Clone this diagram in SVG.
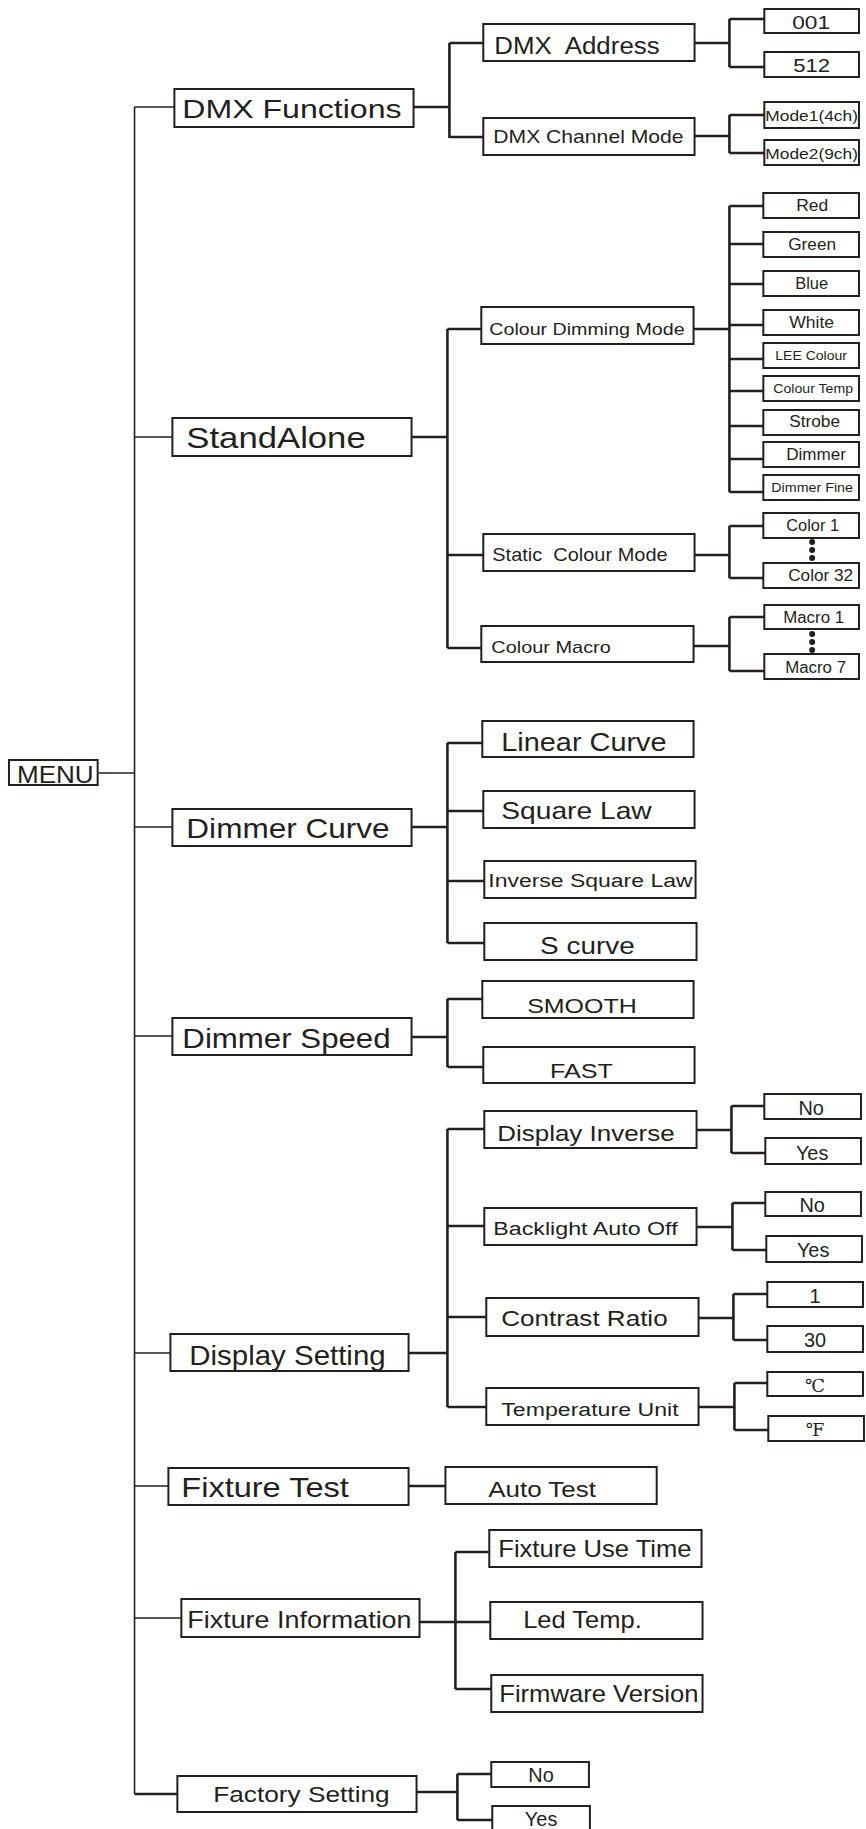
<svg xmlns="http://www.w3.org/2000/svg" width="866" height="1829" viewBox="0 0 866 1829">
<style>
rect{fill:#fff;stroke:#231f20;stroke-width:2}
text{font-family:"Liberation Sans Narrow","Arial Narrow","Liberation Sans",Arial,sans-serif;fill:#231f20}
.c{text-anchor:middle}
.deg{font-family:"DejaVu Serif","Noto Sans CJK SC",serif}
#connectors path{fill:none;stroke:#231f20;stroke-width:2.6}
#connectors .trunk{stroke-width:1.6}
.dot{fill:#231f20}
</style>
<rect x="0" y="0" width="866" height="1829" style="fill:#fff;stroke:none"/>
<g id="diagram" transform="scale(0.9965 1)">
<g id="connectors">
<path class="trunk" d="M135,107V1794M99,773H135M135,107H175M135,437H173M135,827H173M135,1036H173M135,1353H171M135,1486H169M135,1618H182"/>
<path d="M135,1794H178"/>
<path d="M415,107H451M451,43V138M451,43H485M451,137H485"/>
<path d="M697,43H732M732,19V67M732,19H767M732,67H767"/>
<path d="M697,136H732M732,115V153M732,115H767M732,153H767"/>
<path d="M696,329H732M732,206V492M732,206H766M732,244H766M732,284H766M732,325H766M732,359H766M732,391H766M732,426H766M732,459H766M732,492H766"/>
<path d="M413,437H449M449,329V648M449,329H483M449,555H485M449,648H483"/>
<path d="M697,555H732M732,526V578M732,526H766M732,578H766"/>
<path d="M696,646H732M732,617V671M732,617H767M732,671H767"/>
<path d="M413,827H449M449,743V943M449,743H484M449,811H485M449,881H486M449,943H486"/>
<path d="M413,1037H449M449,999V1067M449,999H484M449,1067H485"/>
<path d="M410,1353H449M449,1129V1407M449,1129H486M449,1226H486M449,1317H488M449,1407H488"/>
<path d="M699,1130H734M734,1106V1153M734,1106H767M734,1153H768"/>
<path d="M699,1227H735M735,1203V1250M735,1203H768M735,1250H769"/>
<path d="M701,1318H736M736,1294V1340M736,1294H770M736,1340H770"/>
<path d="M701,1407H737M737,1383V1430M737,1383H770M737,1430H771"/>
<path d="M410,1486H447"/>
<path d="M421,1622H492M457,1552V1689M457,1552H491M457,1689H493"/>
<path d="M418,1792H459M459,1774V1820M459,1774H493M459,1820H494"/>
</g>
<g id="menu"><rect x="9" y="760" width="89" height="25"/><text x="17" y="783" font-size="24" textLength="77" lengthAdjust="spacingAndGlyphs">MENU</text></g>
<g id="dmx-functions"><rect x="175" y="89" width="240" height="38"/><text x="183" y="118" font-size="26" textLength="220" lengthAdjust="spacingAndGlyphs">DMX Functions</text></g>
<g id="dmx-address"><rect x="485" y="24" width="212" height="37"/><text x="496" y="54" font-size="24" xml:space="preserve" textLength="166" lengthAdjust="spacingAndGlyphs">DMX  Address</text></g>
<g id="v001"><rect x="767" y="9" width="95" height="24"/><text x="795" y="29" font-size="19" textLength="38" lengthAdjust="spacingAndGlyphs">001</text></g>
<g id="v512"><rect x="767" y="52" width="95" height="25"/><text x="796" y="72" font-size="19" textLength="37" lengthAdjust="spacingAndGlyphs">512</text></g>
<g id="dmx-channel-mode"><rect x="485" y="118" width="212" height="37"/><text x="495" y="143" font-size="18" textLength="191" lengthAdjust="spacingAndGlyphs">DMX Channel Mode</text></g>
<g id="mode1"><rect x="767" y="102" width="95" height="26"/><text x="768" y="121" font-size="15" textLength="93" lengthAdjust="spacingAndGlyphs">Mode1(4ch)</text></g>
<g id="mode2"><rect x="767" y="140" width="95" height="25"/><text x="768" y="159" font-size="15" textLength="93" lengthAdjust="spacingAndGlyphs">Mode2(9ch)</text></g>
<g id="standalone"><rect x="173" y="418" width="240" height="38"/><text x="187" y="448" font-size="30" textLength="180" lengthAdjust="spacingAndGlyphs">StandAlone</text></g>
<g id="colour-dimming-mode"><rect x="483" y="307" width="213" height="37"/><text x="491" y="335" font-size="17" textLength="196" lengthAdjust="spacingAndGlyphs">Colour Dimming Mode</text></g>
<g id="red"><rect x="766" y="193" width="96" height="25"/><text x="799" y="211" font-size="16" textLength="32" lengthAdjust="spacingAndGlyphs">Red</text></g>
<g id="green"><rect x="766" y="232" width="96" height="25"/><text x="791" y="250" font-size="16" textLength="48" lengthAdjust="spacingAndGlyphs">Green</text></g>
<g id="blue"><rect x="766" y="271" width="96" height="25"/><text x="798" y="289" font-size="16" textLength="33" lengthAdjust="spacingAndGlyphs">Blue</text></g>
<g id="white"><rect x="766" y="310" width="96" height="25"/><text x="792" y="328" font-size="16" textLength="45" lengthAdjust="spacingAndGlyphs">White</text></g>
<g id="lee-colour"><rect x="766" y="343" width="96" height="25"/><text x="778" y="360" font-size="13" textLength="72" lengthAdjust="spacingAndGlyphs">LEE Colour</text></g>
<g id="colour-temp"><rect x="766" y="376" width="96" height="25"/><text x="776" y="393" font-size="13" textLength="80" lengthAdjust="spacingAndGlyphs">Colour Temp</text></g>
<g id="strobe"><rect x="766" y="410" width="96" height="25"/><text x="792" y="427" font-size="16" textLength="51" lengthAdjust="spacingAndGlyphs">Strobe</text></g>
<g id="dimmer"><rect x="766" y="442" width="96" height="25"/><text x="789" y="460" font-size="16" textLength="60" lengthAdjust="spacingAndGlyphs">Dimmer</text></g>
<g id="dimmer-fine"><rect x="766" y="475" width="96" height="25"/><text x="774" y="492" font-size="13" textLength="82" lengthAdjust="spacingAndGlyphs">Dimmer Fine</text></g>
<g id="static-colour-mode"><rect x="485" y="534" width="212" height="37"/><text x="494" y="561" font-size="18" xml:space="preserve" textLength="176" lengthAdjust="spacingAndGlyphs">Static  Colour Mode</text></g>
<g id="color1"><rect x="766" y="513" width="96" height="25"/><text x="789" y="531" font-size="16" textLength="53" lengthAdjust="spacingAndGlyphs">Color 1</text></g>
<g id="color32"><rect x="766" y="563" width="96" height="25"/><text x="791" y="581" font-size="16" textLength="65" lengthAdjust="spacingAndGlyphs">Color 32</text></g>
<g id="color-dots"><circle class="dot" cx="815" cy="542" r="3"/><circle class="dot" cx="815" cy="550" r="3"/><circle class="dot" cx="815" cy="558" r="3"/></g>
<g id="colour-macro"><rect x="483" y="626" width="213" height="36"/><text x="493" y="653" font-size="17" textLength="120" lengthAdjust="spacingAndGlyphs">Colour Macro</text></g>
<g id="macro1"><rect x="767" y="605" width="95" height="24"/><text x="786" y="623" font-size="16" textLength="61" lengthAdjust="spacingAndGlyphs">Macro 1</text></g>
<g id="macro7"><rect x="767" y="654" width="95" height="25"/><text x="788" y="673" font-size="16" textLength="61" lengthAdjust="spacingAndGlyphs">Macro 7</text></g>
<g id="macro-dots"><circle class="dot" cx="815" cy="634" r="3"/><circle class="dot" cx="815" cy="642" r="3"/><circle class="dot" cx="815" cy="650" r="3"/></g>
<g id="dimmer-curve"><rect x="173" y="809" width="240" height="37"/><text x="187" y="838" font-size="28" textLength="204" lengthAdjust="spacingAndGlyphs">Dimmer Curve</text></g>
<g id="linear-curve"><rect x="484" y="721" width="212" height="36"/><text x="503" y="751" font-size="25" textLength="166" lengthAdjust="spacingAndGlyphs">Linear Curve</text></g>
<g id="square-law"><rect x="485" y="791" width="212" height="37"/><text x="503" y="819" font-size="24" textLength="151" lengthAdjust="spacingAndGlyphs">Square Law</text></g>
<g id="inverse-square-law"><rect x="486" y="861" width="212" height="37"/><text x="490" y="887" font-size="19" textLength="205" lengthAdjust="spacingAndGlyphs">Inverse Square Law</text></g>
<g id="s-curve"><rect x="486" y="923" width="213" height="37"/><text x="542" y="954" font-size="24" textLength="95" lengthAdjust="spacingAndGlyphs">S curve</text></g>
<g id="dimmer-speed"><rect x="173" y="1018" width="240" height="37"/><text x="183" y="1048" font-size="28" textLength="209" lengthAdjust="spacingAndGlyphs">Dimmer Speed</text></g>
<g id="smooth"><rect x="484" y="981" width="212" height="37"/><text x="529" y="1013" font-size="21" textLength="110" lengthAdjust="spacingAndGlyphs">SMOOTH</text></g>
<g id="fast"><rect x="485" y="1047" width="212" height="36"/><text x="552" y="1078" font-size="21" textLength="63" lengthAdjust="spacingAndGlyphs">FAST</text></g>
<g id="display-setting"><rect x="171" y="1334" width="239" height="37"/><text x="190" y="1365" font-size="28" textLength="197" lengthAdjust="spacingAndGlyphs">Display Setting</text></g>
<g id="display-inverse"><rect x="486" y="1111" width="213" height="37"/><text x="499" y="1141" font-size="22" textLength="178" lengthAdjust="spacingAndGlyphs">Display Inverse</text></g>
<g id="di-no"><rect x="767" y="1094" width="97" height="25"/><text class="c" x="814" y="1115" font-size="20">No</text></g>
<g id="di-yes"><rect x="768" y="1138" width="96" height="26"/><text class="c" x="815" y="1160" font-size="20">Yes</text></g>
<g id="backlight-auto-off"><rect x="486" y="1208" width="213" height="37"/><text x="495" y="1235" font-size="19" textLength="185" lengthAdjust="spacingAndGlyphs">Backlight Auto Off</text></g>
<g id="bl-no"><rect x="768" y="1192" width="96" height="24"/><text class="c" x="815" y="1212" font-size="20">No</text></g>
<g id="bl-yes"><rect x="769" y="1236" width="96" height="26"/><text class="c" x="816" y="1257" font-size="20">Yes</text></g>
<g id="contrast-ratio"><rect x="488" y="1298" width="213" height="38"/><text x="503" y="1326" font-size="22" textLength="167" lengthAdjust="spacingAndGlyphs">Contrast Ratio</text></g>
<g id="c1"><rect x="770" y="1282" width="96" height="25"/><text class="c" x="818" y="1303" font-size="20">1</text></g>
<g id="c30"><rect x="770" y="1326" width="96" height="26"/><text class="c" x="818" y="1347" font-size="20">30</text></g>
<g id="temperature-unit"><rect x="488" y="1388" width="213" height="37"/><text x="503" y="1416" font-size="19" textLength="178" lengthAdjust="spacingAndGlyphs">Temperature Unit</text></g>
<g id="celsius"><rect x="770" y="1372" width="96" height="24"/><text class="c deg" x="818" y="1392" font-size="18">℃</text></g>
<g id="fahrenheit"><rect x="771" y="1416" width="96" height="25"/><text class="c deg" x="818" y="1436" font-size="18">℉</text></g>
<g id="fixture-test"><rect x="169" y="1468" width="241" height="37"/><text x="182" y="1497" font-size="28" textLength="168" lengthAdjust="spacingAndGlyphs">Fixture Test</text></g>
<g id="auto-test"><rect x="447" y="1467" width="212" height="37"/><text x="490" y="1497" font-size="22" textLength="108" lengthAdjust="spacingAndGlyphs">Auto Test</text></g>
<g id="fixture-information"><rect x="182" y="1599" width="239" height="38"/><text x="188" y="1628" font-size="23" textLength="225" lengthAdjust="spacingAndGlyphs">Fixture Information</text></g>
<g id="fixture-use-time"><rect x="491" y="1530" width="213" height="37"/><text x="500" y="1557" font-size="23" textLength="194" lengthAdjust="spacingAndGlyphs">Fixture Use Time</text></g>
<g id="led-temp"><rect x="492" y="1602" width="213" height="37"/><text x="525" y="1628" font-size="23" textLength="119" lengthAdjust="spacingAndGlyphs">Led Temp.</text></g>
<g id="firmware-version"><rect x="493" y="1675" width="212" height="37"/><text x="501" y="1702" font-size="23" textLength="200" lengthAdjust="spacingAndGlyphs">Firmware Version</text></g>
<g id="factory-setting"><rect x="178" y="1776" width="240" height="36"/><text x="214" y="1802" font-size="22" textLength="177" lengthAdjust="spacingAndGlyphs">Factory Setting</text></g>
<g id="fs-no"><rect x="493" y="1762" width="98" height="25"/><text class="c" x="543" y="1782" font-size="20">No</text></g>
<g id="fs-yes"><rect x="494" y="1806" width="98" height="26"/><text class="c" x="543" y="1826" font-size="20">Yes</text></g>
</g>
</svg>
